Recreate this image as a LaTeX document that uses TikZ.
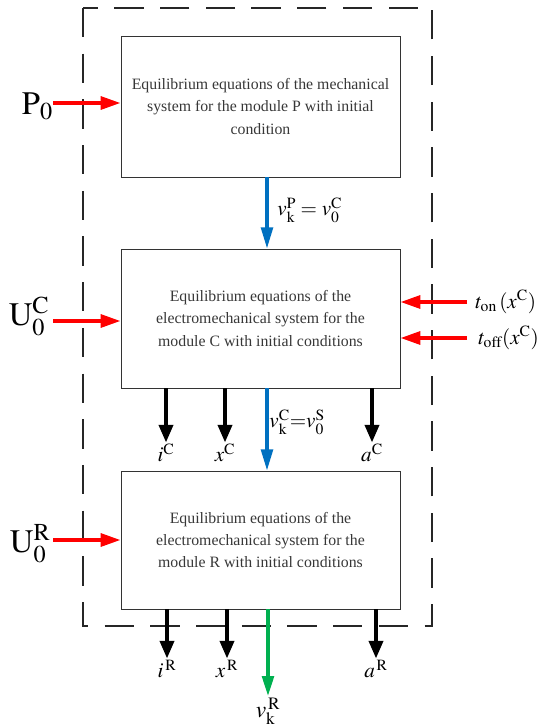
\documentclass[tikz,border=0pt]{standalone}
\usepackage{mathptmx}
\usepackage{fontspec}
\setmainfont{Liberation Serif}
\usetikzlibrary{arrows.meta}
\definecolor{arrred}{RGB}{255,0,0}
\definecolor{arrblue}{RGB}{0,112,192}
\definecolor{arrgreen}{RGB}{0,176,80}
\definecolor{txtgray}{RGB}{55,55,55}
\begin{document}
\begin{tikzpicture}[x=0.03cm, y=-0.03cm,
	modbox/.style={draw=black!80, line width=0.8pt, minimum width=8.37cm, align=center, text=txtgray, font=\fontsize{13.5}{19}\selectfont, inner sep=0pt},
	redarr/.style={draw=arrred, line width=3pt, -{Triangle[length=17pt, width=11pt]}},
	blackarr/.style={draw=black, line width=3pt, -{Triangle[length=15pt, width=12pt]}},
	bluearr/.style={draw=arrblue, line width=2.8pt, -{Triangle[length=18pt, width=10pt]}},
	greenarr/.style={draw=arrgreen, line width=2.8pt, -{Triangle[length=17pt, width=10pt]}},
	biglbl/.style={font=\fontsize{28}{30}\selectfont, inner sep=0pt},
	varlbl/.style={font=\fontsize{18}{20}\selectfont, inner sep=1pt}]
	\useasboundingbox (0,0) rectangle (556,727);
	% outer system border
	\draw[line width=1.6pt, black!85, dash pattern=on 25pt off 14pt] (83,8) rectangle (432,626);
	% the three modules
	\node[modbox, minimum height=4.23cm] (boxP) at (260.5,106.5) {Equilibrium equations of the mechanical\\system for the module P with initial\\condition};
	\node[modbox, minimum height=4.17cm] (boxC) at (260.5,318.5) {Equilibrium equations of the\\electromechanical system for the\\module C with initial conditions};
	\node[modbox, minimum height=4.14cm] (boxR) at (260.5,540) {Equilibrium equations of the\\electromechanical system for the\\module R with initial conditions};
	% inputs on the left
	\coordinate (p0in) at (53,103);
	\coordinate (ucin) at (53,321);
	\coordinate (urin) at (53,540);
	\node[biglbl, anchor=east] (p0) at ([yshift=-3pt]p0in) {$\mathrm{P}_{0}$};
	\node[biglbl, anchor=east] (uc) at ([xshift=-3pt, yshift=4pt]ucin) {$\mathrm{U}_{0}^{\mathrm{C}}$};
	\node[biglbl, anchor=east] (ur) at ([xshift=-2pt, yshift=-3pt]urin) {$\mathrm{U}_{0}^{\mathrm{R}}$};
	\draw[redarr] (p0in) -- (p0in -| boxP.west);
	\draw[redarr] (ucin) -- (ucin -| boxC.west);
	\draw[redarr] (urin) -- (urin -| boxR.west);
	% switching times on the right
	\coordinate (tonin) at (467,302);
	\coordinate (toffin) at (467,338);
	\node[varlbl, anchor=west] (ton) at (474,302) {$t_{\mathrm{on}}\,(x^{\mathrm{C}})$};
	\node[varlbl, anchor=west] (toff) at (477,338) {$t_{\mathrm{off}}(x^{\mathrm{C}})$};
	\draw[redarr] (tonin) -- (tonin -| boxC.east);
	\draw[redarr] (toffin) -- (toffin -| boxC.east);
	% velocity transfer between modules
	\coordinate (vx) at (267,0);
	\draw[bluearr] (boxP.south -| vx) -- (boxC.north -| vx);
	\draw[bluearr] (boxC.south -| vx) -- (boxR.north -| vx);
	\node[varlbl, anchor=west] (vP) at (276,210) {$v_{\mathrm{k}}^{\mathrm{P}} = v_{0}^{\mathrm{C}}$};
	\node[varlbl, anchor=west] (vC) at (268,422) {$v_{\mathrm{k}}^{\mathrm{C}}{=}v_{0}^{\mathrm{S}}$};
	% outputs of module C
	\node[varlbl] (iC) at (166,453) {$i^{\mathrm{C}}$};
	\node[varlbl] (xC) at (225,453) {$x^{\mathrm{C}}$};
	\node[varlbl] (aC) at (372,453) {$a^{\mathrm{C}}$};
	\draw[blackarr] (boxC.south -| iC) -- (iC.north);
	\draw[blackarr] (boxC.south -| xC) -- (xC.north);
	\draw[blackarr] (boxC.south -| aC) -- (aC.north);
	% outputs of module R
	\node[varlbl] (iR) at (167,669) {$i^{\,\mathrm{R}}$};
	\node[varlbl] (xR) at (227,669) {$x^{\,\mathrm{R}}$};
	\node[varlbl] (aR) at (376,669) {$a^{\,\mathrm{R}}$};
	\node[varlbl, font=\fontsize{20}{22}\selectfont] (vR) at (268,711) {$v_{\mathrm{k}}^{\,\mathrm{R}}$};
	\draw[blackarr] (boxR.south -| iR) -- (iR.north);
	\draw[blackarr] (boxR.south -| xR) -- (xR.north);
	\draw[blackarr] (boxR.south -| aR) -- (aR.north);
	\draw[greenarr] (boxR.south -| vR) -- (vR.north);
\end{tikzpicture}
\end{document}
